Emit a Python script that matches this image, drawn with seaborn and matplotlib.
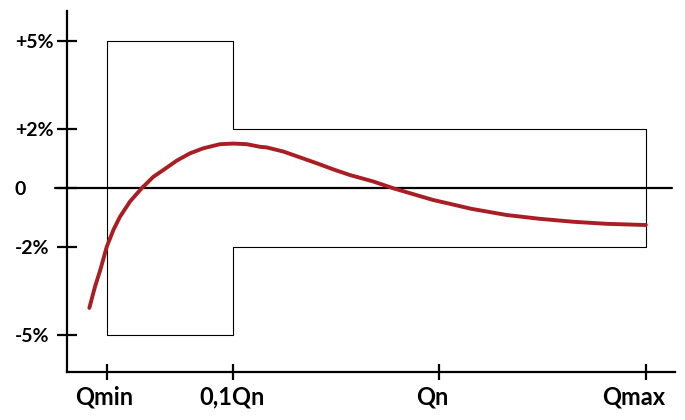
import numpy as np
import matplotlib
matplotlib.use("Agg")
import matplotlib.pyplot as plt
import matplotlib.transforms as mtransforms
import seaborn as sns

# tick positions (arbitrary flow units) and labels
x_ticks = [1.0, 1.995, 3.617, 5.242]
x_labels = ["Qmin", "0,1Qn", "Qn", "Qmax"]
y_ticks = [-5, -2, 0, 2, 5]
y_labels = ["-5%", "-2%", "0", "+2%", "+5%"]

# tolerance envelope (%)
env_x = [1.0, 1.0, 1.995, 1.995, 5.242, 5.242, 1.995, 1.995, 1.0]
env_y = [-5, 5, 5, 2, 2, -2, -2, -5, -5]

# meter error curve (%)
flow = [0.861, 0.906, 0.947, 0.998, 1.050, 1.102, 1.181, 1.273, 1.365, 1.443,
        1.549, 1.654, 1.758, 1.890, 1.995, 2.100, 2.205, 2.257, 2.388, 2.520,
        2.652, 2.783, 2.913, 3.097, 3.254, 3.411, 3.569, 3.701, 3.870, 4.147,
        4.409, 4.672, 4.935, 5.242]
error = [-4.07, -3.34, -2.78, -1.99, -1.42, -0.97, -0.45, 0.0, 0.39, 0.62,
         0.94, 1.19, 1.36, 1.50, 1.52, 1.50, 1.41, 1.39, 1.25, 1.05,
         0.85, 0.64, 0.45, 0.23, 0.0, -0.20, -0.40, -0.53, -0.70, -0.91,
         -1.04, -1.14, -1.21, -1.25]

sns.set_style("white")
plt.rcParams['font.family'] = ['Lato', 'DejaVu Sans']

fig = plt.figure(figsize=(6.85, 4.2), dpi=100)
ax = fig.add_axes([67 / 685, 48 / 420, 608 / 685, 361 / 420])

ax.plot(env_x, env_y, color="black", lw=0.8)
ax.plot([0.591, 5.449], [0, 0], color="black", lw=1.6, clip_on=False)
sns.lineplot(x=flow, y=error, ax=ax, color="#a81e24", lw=2.8, sort=False)

ax.set_xlim(0.685, 5.472)
ax.set_ylim(-6.25, 6.03)

for s in ["top", "right"]:
    ax.spines[s].set_visible(False)
for s in ["left", "bottom"]:
    ax.spines[s].set_linewidth(1.6)
    ax.spines[s].set_color("black")

ax.set_xticks(x_ticks)
ax.set_xticklabels(x_labels)
ax.set_yticks(y_ticks)
ax.set_yticklabels(y_labels)
ax.tick_params(axis="y", left=True, direction="inout", length=15, width=1.6,
               pad=30, labelsize=14, colors="black")
ax.tick_params(axis="x", bottom=True, direction="inout", length=12, width=1.6,
               pad=4, labelsize=17, colors="black")
for t in ax.get_yticklabels():
    t.set_fontweight("bold")
    t.set_ha("left")

# labels in the original sit slightly left of their ticks
shifts = [-3, -1, -7, -12]
for t, dx in zip(ax.get_xticklabels(), shifts):
    t.set_fontweight("bold")
    t.set_transform(t.get_transform() +
                    mtransforms.ScaledTranslation(dx / 100, 0, fig.dpi_scale_trans))

fig.savefig("out.png", dpi=100)
